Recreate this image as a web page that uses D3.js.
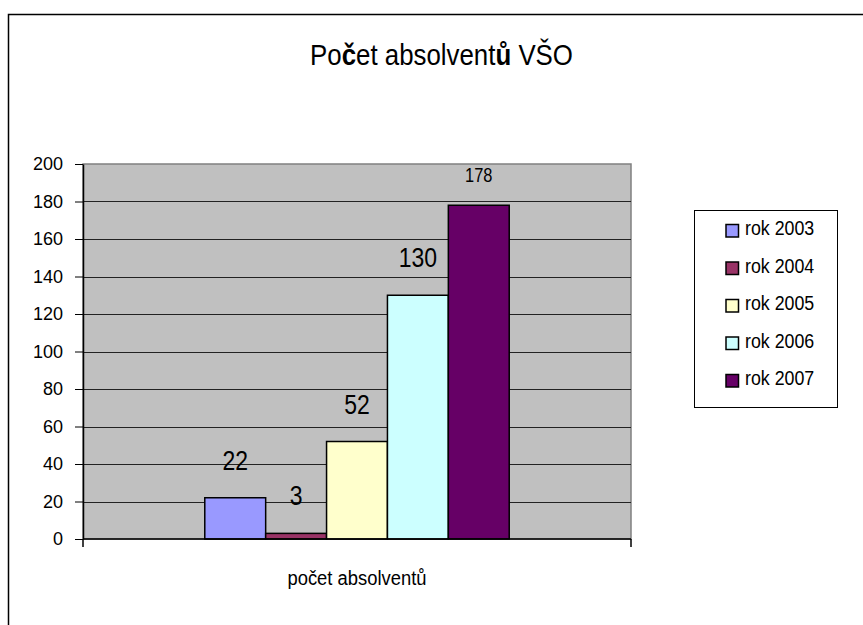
<!DOCTYPE html>
<html>
<head>
<meta charset="utf-8">
<script src="https://cdn.jsdelivr.net/npm/d3@7"></script>
<style>
  body { margin: 0; background: #fff; }
  text { font-family: "Liberation Sans", Arial, sans-serif; fill: #000; }
</style>
</head>
<body>
<div id="chart"></div>
<script>
// data
var years = ["rok 2003", "rok 2004", "rok 2005", "rok 2006", "rok 2007"];
var values = [22, 3, 52, 130, 178];
var colors = ["#9999FF", "#993366", "#FFFFCC", "#CCFFFF", "#660066"];
var category = ["počet absolventů"];
var yTicks = [0, 20, 40, 60, 80, 100, 120, 140, 160, 180, 200];

var svgWidth = 863, svgHeight = 625;
var margin = { top: 164, left: 83 };
var width = 548, height = 375;

var svg = d3.select("#chart").append("svg")
  .attr("width", svgWidth)
  .attr("height", svgHeight);

// squeeze text horizontally (original used a narrow face)
function narrow(sel, k) {
  sel.each(function() {
    var len = this.getComputedTextLength();
    d3.select(this).attr("textLength", len * k).attr("lengthAdjust", "spacingAndGlyphs");
  });
}

// outer chart border
svg.append("rect")
  .attr("x", 8.5).attr("y", 14.5)
  .attr("width", 900).attr("height", 700)
  .attr("fill", "none").attr("stroke", "#000").attr("stroke-width", 1.5);

// title - bold č and ů like the original, squeezed to its width with a scale
var title = svg.append("text")
  .attr("x", 0).attr("y", 0)
  .attr("text-anchor", "middle")
  .style("font-size", "30px");
title.append("tspan").text("Po");
title.append("tspan").attr("font-weight", "bold").text("č");
title.append("tspan").text("et absolvent");
title.append("tspan").attr("font-weight", "bold").text("ů");
title.append("tspan").text(" VŠO");
var tw = title.node().getComputedTextLength();
title.attr("transform", `translate(441.5, 65) scale(${263 / tw}, 1)`);

var chart = svg.append("g")
  .attr("transform", `translate(${margin.left}, ${margin.top})`);

var y = d3.scaleLinear().domain([0, 200]).range([height, 0]);
var x = d3.scaleBand().domain(years).range([0, width]).paddingInner(0).paddingOuter(2);
var xCat = d3.scaleBand().domain(category).range([0, width]);

// plot area
chart.append("rect")
  .attr("x", 0).attr("y", 0)
  .attr("width", width).attr("height", height)
  .attr("fill", "#C0C0C0")
  .attr("stroke", "#808080").attr("stroke-width", 1.5);

// gridlines
chart.selectAll(".grid")
  .data(yTicks.filter(d => d > 0 && d < 200))
  .enter().append("line")
  .attr("x1", 0).attr("x2", width)
  .attr("y1", d => Math.round(y(d)) + 0.5)
  .attr("y2", d => Math.round(y(d)) + 0.5)
  .attr("stroke", "#222").attr("stroke-width", 1);

// bars
chart.selectAll(".bar")
  .data(values)
  .enter().append("rect")
  .attr("x", (d, i) => x(years[i]))
  .attr("y", d => y(d))
  .attr("width", x.bandwidth())
  .attr("height", d => height - y(d))
  .attr("fill", (d, i) => colors[i])
  .attr("stroke", "#000").attr("stroke-width", 1.5);

// value labels (the one that would poke out of the plot is drawn smaller)
chart.selectAll(".lbl")
  .data(values)
  .enter().append("text")
  .attr("x", (d, i) => x(years[i]) + x.bandwidth() / 2)
  .attr("y", d => y(d) - 28 - 20 < 0 ? y(d) - 23 : y(d) - 28)
  .attr("text-anchor", "middle")
  .style("font-size", d => y(d) - 28 - 20 < 0 ? "20px" : "28px")
  .text(d => d)
  .call(narrow, 0.82);

// y axis
var leftAxis = d3.axisLeft(y).tickValues(yTicks).tickSize(8).tickSizeOuter(0).tickPadding(12);
var yAxis = chart.append("g").call(leftAxis);
yAxis.select(".domain").attr("stroke", "#000").attr("stroke-width", 1.5);
yAxis.selectAll("line").attr("stroke", "#000");
yAxis.selectAll("text").style("font-size", "18px").style("font-family", "Liberation Sans, Arial, sans-serif");

// x axis
chart.append("line")
  .attr("x1", 0).attr("x2", width)
  .attr("y1", height).attr("y2", height)
  .attr("stroke", "#000").attr("stroke-width", 1.5);
chart.selectAll(".xtick")
  .data([xCat(category[0]), xCat(category[0]) + xCat.bandwidth()])
  .enter().append("line")
  .attr("x1", d => d).attr("x2", d => d)
  .attr("y1", height).attr("y2", height + 8)
  .attr("stroke", "#000").attr("stroke-width", 1.5);
chart.append("text")
  .attr("x", xCat(category[0]) + xCat.bandwidth() / 2)
  .attr("y", 585 - margin.top)
  .attr("text-anchor", "middle")
  .style("font-size", "20px")
  .text(category[0])
  .call(narrow, 0.92);

// legend
var legend = svg.append("g").attr("transform", "translate(694.5, 210.5)");
legend.append("rect")
  .attr("width", 143).attr("height", 197)
  .attr("fill", "#fff").attr("stroke", "#000").attr("stroke-width", 1);
var items = legend.selectAll(".item")
  .data(years)
  .enter().append("g")
  .attr("transform", (d, i) => `translate(0, ${24.5 + i * 37.5})`);
items.append("rect")
  .attr("x", 31.5).attr("y", -10.5)
  .attr("width", 12.5).attr("height", 12.5)
  .attr("fill", (d, i) => colors[i])
  .attr("stroke", "#000").attr("stroke-width", 1.5);
items.append("text")
  .attr("x", 50.5).attr("y", 0)
  .style("font-size", "20px")
  .text(d => d)
  .call(narrow, 0.89);
</script>
</body>
</html>
